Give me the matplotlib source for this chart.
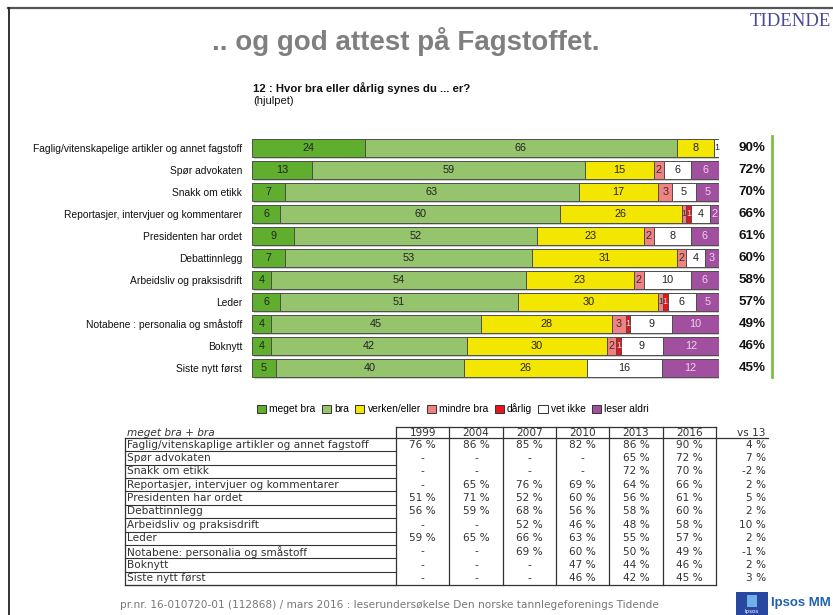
import matplotlib
matplotlib.use('Agg')
import matplotlib.pyplot as plt
import numpy as np
from matplotlib.patches import Patch, Rectangle

# ---------------- data ----------------
categories = [
    "Faglig/vitenskapelige artikler og annet fagstoff",
    "Spør advokaten",
    "Snakk om etikk",
    "Reportasjer, intervjuer og kommentarer",
    "Presidenten har ordet",
    "Debattinnlegg",
    "Arbeidsliv og praksisdrift",
    "Leder",
    "Notabene : personalia og småstoff",
    "Boknytt",
    "Siste nytt først",
]
meget_bra   = [24, 13, 7, 6, 9, 7, 4, 6, 4, 4, 5]
bra         = [66, 59, 63, 60, 52, 53, 54, 51, 45, 42, 40]
verken      = [8, 15, 17, 26, 23, 31, 23, 30, 28, 30, 26]
mindre_bra  = [0, 2, 3, 1, 2, 2, 2, 1, 3, 2, 0]
darlig      = [0, 0, 0, 1, 0, 0, 0, 1, 1, 1, 0]
vet_ikke    = [1, 6, 5, 4, 8, 4, 10, 6, 9, 9, 16]
leser_aldri = [0, 6, 5, 2, 6, 3, 6, 5, 10, 12, 12]
totals      = [90, 72, 70, 66, 61, 60, 58, 57, 49, 46, 45]

series_names = ["meget bra", "bra", "verken/eller", "mindre bra", "dårlig", "vet ikke", "leser aldri"]
series_colors = ["#5fae2e", "#95c46c", "#f3e600", "#f08282", "#e8141c", "#ffffff", "#a0509e"]
label_colors = ["#222222", "#222222", "#222222", "#333333", "#ffd8d8", "#222222", "#f3d0f0"]

table_labels = [
    "Faglig/vitenskaplige artikler og annet fagstoff",
    "Spør advokaten",
    "Snakk om etikk",
    "Reportasjer, intervjuer og kommentarer",
    "Presidenten har ordet",
    "Debattinnlegg",
    "Arbeidsliv og praksisdrift",
    "Leder",
    "Notabene: personalia og småstoff",
    "Boknytt",
    "Siste nytt først",
]
years = ["1999", "2004", "2007", "2010", "2013", "2016"]
y1999 = [76, None, None, None, 51, 56, None, 59, None, None, None]
y2004 = [86, None, None, 65, 71, 59, None, 65, None, None, None]
y2007 = [85, None, None, 76, 52, 68, 52, 66, 69, None, None]
y2010 = [82, None, None, 69, 60, 56, 46, 63, 60, 47, 46]
y2013 = [86, 65, 72, 64, 56, 58, 48, 55, 50, 44, 42]
y2016 = [90, 72, 70, 66, 61, 60, 58, 57, 49, 46, 45]
vs13  = [4, 7, -2, 2, 5, 2, 10, 2, -1, 2, 3]

# ---------------- figure ----------------
W, H = 833, 615
fig = plt.figure(figsize=(W / 100, H / 100), dpi=100)
fig.patch.set_facecolor("white")

bg = fig.add_axes([0, 0, 1, 1])
bg.set_xlim(0, W)
bg.set_ylim(H, 0)
bg.axis("off")

# frame lines
bg.plot([8, W], [8, 8], color="#555555", lw=1.6)
bg.plot([9, 9], [8, H], color="#222222", lw=1.3)

# titles
bg.text(212, 42, ".. og god attest på Fagstoffet.", fontsize=20, fontweight="bold",
        color="#7f7f7f", family="Liberation Sans", va="center", ha="left")
bg.text(831, 21, "TIDENDE", fontsize=13.5, color="#4a4a96", family="Liberation Serif",
        va="center", ha="right")
bg.text(253, 88, "12 : Hvor bra eller dårlig synes du ... er?", fontsize=8.2, fontweight="bold",
        color="#111111", family="Liberation Sans", va="center")
bg.text(253, 101, "(hjulpet)", fontsize=8, color="#111111", family="Liberation Sans", va="center")

# ---------------- bars ----------------
left, right = 252, 719
top, bot = 137, 379
ax = fig.add_axes([left / W, 1 - bot / H, (right - left) / W, (bot - top) / H])
ax.patch.set_alpha(0)
n = len(categories)
ypos = np.arange(n)
data = np.array([meget_bra, bra, verken, mindre_bra, darlig, vet_ikke, leser_aldri], dtype=float)
row_sum = data.sum(axis=0)
norm = data / row_sum * 100
# light shadow behind each full bar
ax.barh(ypos + 0.1, np.full(n, 100.0), left=0.4, height=0.84, color="#cfcfcf",
        edgecolor="none", zorder=0)
cum = np.zeros(n)
for k in range(len(series_names)):
    ax.barh(ypos, norm[k], left=cum, height=0.84, color=series_colors[k],
            edgecolor="#4d4d4d", linewidth=0.7, label=series_names[k], zorder=2)
    for i in range(n):
        v = data[k, i]
        if v >= 1:
            ax.text(cum[i] + norm[k, i] / 2, ypos[i], f"{int(v)}", ha="center", va="center",
                    fontsize=7.8 if v > 1 else 6.5, color=label_colors[k],
                    family="Liberation Sans", zorder=3)
    cum += norm[k]

ax.set_xlim(0, 100)
ax.set_ylim(n - 0.5, -0.5)
ax.set_yticks(ypos)
ax.set_yticklabels(categories, fontsize=7.4, family="Liberation Sans", color="#111111")
ax.tick_params(axis="y", length=0, pad=7)
ax.set_xticks([])
for s in ax.spines.values():
    s.set_visible(False)

xpx = (right - left) / 100.0
for i in range(n):
    ax.text((752 - left) / xpx, ypos[i], f"{totals[i]}%", ha="center", va="center",
            fontsize=9.6, fontweight="bold", family="Liberation Sans", color="#111111", clip_on=False)
ax.plot([(772 - left) / xpx] * 2, [-0.55, n - 0.6], color="#7cc242", lw=2, clip_on=False)

handles = [Patch(facecolor=c, edgecolor="#333333", linewidth=0.7) for c in series_colors]
fig.legend(handles, series_names, loc="center", bbox_to_anchor=(453 / W, 1 - 409 / H), ncol=7,
           frameon=False, handlelength=0.9, handleheight=0.9, handletextpad=0.3,
           columnspacing=0.6, prop={"family": "Liberation Sans", "size": 7.4})

# ---------------- table ----------------
lc = "#333333"
htop, hbot = 427, 438
rh = (585 - hbot) / len(table_labels)
x0, x1 = 125, 396
cw = (716 - x1) / len(years)
yedges = [x1 + k * cw for k in range(len(years) + 1)]
bottom = hbot + rh * len(table_labels)
tf = dict(family="DejaVu Sans", fontsize=7.6, color="#333333", va="center")

bg.plot([x1, yedges[-1]], [htop, htop], color=lc, lw=0.9)
for xe in yedges:
    bg.plot([xe, xe], [htop, bottom], color=lc, lw=0.9)
bg.plot([x0, 768], [hbot, hbot], color=lc, lw=0.9)
bg.plot([x0, x0], [hbot, bottom], color=lc, lw=0.9)
for r in range(1, len(table_labels) + 1):
    bg.plot([x0, x1], [hbot + r * rh] * 2, color=lc, lw=0.8)
bg.plot([x0, yedges[-1]], [bottom, bottom], color=lc, lw=0.9)

bg.text(x0 + 2, 433, "meget bra + bra", style="italic", **tf)
for j, yr in enumerate(years):
    bg.text((yedges[j] + yedges[j + 1]) / 2, 433, yr, ha="center", **tf)
bg.text(766, 433, "vs 13", ha="right", **tf)

cols = [y1999, y2004, y2007, y2010, y2013, y2016]
for i, lab in enumerate(table_labels):
    yc = hbot + (i + 0.5) * rh
    bg.text(x0 + 2, yc, lab, ha="left", **tf)
    for j, col in enumerate(cols):
        val = col[i]
        s = "-" if val is None else f"{val} %"
        bg.text((yedges[j] + yedges[j + 1]) / 2, yc, s, ha="center", **tf)
    bg.text(766, yc, f"{vs13[i]} %", ha="right", **tf)

# ---------------- footer ----------------
bg.text(120, 605, "pr.nr. 16-010720-01 (112868) / mars 2016 : leserundersøkelse Den norske tannlegeforenings Tidende",
        family="DejaVu Sans", fontsize=7.6, color="#777777", va="center")
bg.add_patch(Rectangle((736, 592), 32, 23, facecolor="#2747a0", edgecolor="none"))
bg.add_patch(Rectangle((747, 595), 10, 12, facecolor="#6fb0e8", edgecolor="none"))
bg.text(752, 612, "Ipsos", fontsize=4, color="white", ha="center", va="center", family="DejaVu Sans")
bg.text(771, 603, "Ipsos MM", fontsize=9.5, fontweight="bold", color="#2060b0",
        family="Liberation Sans", va="center")

fig.savefig("out.png", dpi=100, facecolor="white")
